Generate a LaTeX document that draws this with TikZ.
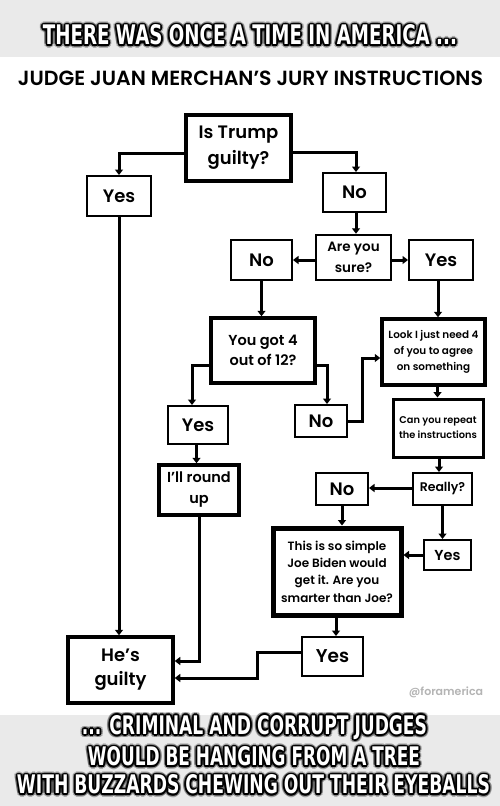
\documentclass[tikz,border=0pt]{standalone}
\usepackage{fontspec}
\usepackage{graphicx}
\usetikzlibrary{arrows.meta}
\setmainfont{Poppins SemiBold}
\newfontfamily\memefont{DejaVu Sans}[BoldFont={DejaVu Sans Bold}]
\definecolor{band}{HTML}{EAEAEA}
\definecolor{wm}{HTML}{B4B4B4}
\newcommand\fsz[2]{\fontsize{#1}{#2}\selectfont}
\newcommand\memeline[6]{%
  \foreach \a in {0,30,...,330}{%
    \node[memeblur] (#1b\a) at ([shift={(\a:3.2pt)}]#2,#3) {\resizebox{#4pt}{#5pt}{\memefont\bfseries #6}};}
  \foreach \a in {0,30,...,330}{%
    \node[memeshadow] (#1s\a) at ([shift={(\a:1.6pt)}]#2,#3) {\resizebox{#4pt}{#5pt}{\memefont\bfseries #6}};}
  \node[memewhite] (#1) at (#2,#3) {\resizebox{#4pt}{#5pt}{\memefont\bfseries #6}};}
\tikzset{
  memeblur/.style={inner sep=0pt, text=black, opacity=0.25},
  memeshadow/.style={inner sep=0pt, text=black},
  memewhite/.style={inner sep=0pt, text=white},
  box/.style={draw=black, line width=2pt, align=center, inner sep=0pt, fill=white},
  thickbox/.style={box, line width=3.5pt},
  conn/.style={line width=3pt, -{Triangle[length=5.5pt,width=8pt]}},
}
\begin{document}
\begin{tikzpicture}[x=1pt,y=-1pt]
\useasboundingbox (0,0) rectangle (500,806);
\fill[white] (0,0) rectangle (500,806);
\fill[band] (0,0) rectangle (500,57);
\fill[band] (0,715) rectangle (500,806);

\memeline{top}{250}{35}{414}{20}{THERE WAS ONCE A TIME IN AMERICA ...}
\memeline{bot1}{254.5}{727.5}{345}{19}{... CRIMINAL AND CORRUPT JUDGES}
\memeline{bot2}{254}{756.5}{332}{19}{WOULD BE HANGING FROM A TREE}
\memeline{bot3}{253.5}{784.5}{473}{19}{WITH BUZZARDS CHEWING OUT THEIR EYEBALLS}

\node[inner sep=0pt] (title) at (250.5,78) {\resizebox{465pt}{!}{\fsz{16}{18}JUDGE JUAN MERCHAN’S JURY INSTRUCTIONS}};

% boxes
\node[thickbox, minimum width=105, minimum height=66, font=\fsz{18}{26}] (trump) at (238.5,148) {Is Trump\\guilty?};
\node[box, minimum width=64, minimum height=40, font=\fsz{18}{22}] (yes1) at (119,196) {Yes};
\node[box, minimum width=63, minimum height=39, font=\fsz{18}{22}] (no1) at (354.5,192.5) {No};
\node[box, line width=2.5pt, minimum width=75, minimum height=45, font=\fsz{13.5}{21}] (sure) at (353.5,257.5) {Are you\\sure?};
\node[box, minimum width=61, minimum height=40, font=\fsz{18}{22}] (no2) at (261.5,260) {No};
\node[box, minimum width=64, minimum height=40, font=\fsz{18}{22}] (yes2) at (441,260) {Yes};
\node[thickbox, minimum width=104, minimum height=65, font=\fsz{14.5}{20}] (got4) at (263,350.5) {You got 4\\out of 12?};
\node[thickbox, minimum width=103, minimum height=66, font=\fsz{10.4}{16}] (look) at (433.5,352) {Look I just need 4\\of you to agree\\on something};
\node[box, minimum width=60, minimum height=38, font=\fsz{18}{22}] (yes3) at (198,425) {Yes};
\node[box, minimum width=52, minimum height=32, font=\fsz{18}{22}] (no3) at (321,421) {No};
\node[thickbox, line width=3pt, minimum width=90, minimum height=58, font=\fsz{9.8}{15}] (repeat) at (438,428) {Can you repeat\\the instructions};
\node[thickbox, minimum width=80, minimum height=50, font=\fsz{14.5}{21}] (round) at (199,490) {I’ll round\\up};
\node[box, minimum width=52, minimum height=32, font=\fsz{18}{22}] (no4) at (342,489) {No};
\node[box, minimum width=59, minimum height=32, font=\fsz{12.5}{16}] (really) at (442.5,489) {Really?};
\node[thickbox, line width=5pt, minimum width=128, minimum height=87, font=\fsz{12}{17.3}] (simple) at (337,571.5) {This is so simple\\Joe Biden would\\get it. Are you\\smarter than Joe?};
\node[box, minimum width=47, minimum height=30, font=\fsz{14.5}{18}] (yes4) at (447.5,555) {Yes};
\node[thickbox, minimum width=105, minimum height=66, font=\fsz{18}{24}] (guilty) at (120.5,670) {He’s\\guilty};
\node[box, minimum width=61, minimum height=39, font=\fsz{18.5}{22}] (yes5) at (332.5,656.5) {Yes};

\node[text=wm, inner sep=0pt, font=\fsz{11}{13}] (wm) at (446,692) {@foramerica};

% connectors
\draw[conn] ([yshift=-5pt]trump.west) -| (yes1.north);
\draw[conn] ([yshift=-4pt]trump.east) -| ([xshift=1.5pt]no1.north);
\draw[conn] ([xshift=1.5pt]no1.south) -- ([xshift=1.5pt]no1.south |- sure.north);
\draw[conn] (sure.west |- no2.east) -- (no2.east);
\draw[conn] (sure.east |- yes2.west) -- (yes2.west);
\draw[conn] (no2.south) -- (no2.south |- got4.north);
\draw[conn] ([xshift=-3pt]yes2.south) -- ([xshift=-3pt]yes2.south |- look.north);
\draw[conn] ([yshift=-14.5pt]got4.west) -| ([xshift=-6pt]yes3.north);
\draw[conn] ([yshift=-14.5pt]got4.east) -| ([xshift=6pt]no3.north);
\draw[conn] (no3.east) -- ++(14,0) |- ([yshift=-6pt]look.west);
\draw[conn] ([xshift=4pt]look.south) -- ([xshift=4pt]look.south |- repeat.north);
\draw[conn] ([xshift=-1.5pt]yes3.south) -- ([xshift=-1.5pt]yes3.south |- round.north);
\draw[conn] ([xshift=1pt]repeat.south) -- ([xshift=1pt]repeat.south |- really.north);
\draw[conn] ([yshift=1pt]really.west) -- ([yshift=1pt]no4.east);
\draw[conn] (no4.south) -- (no4.south |- simple.north);
\draw[conn] (really.south) -- (really.south |- yes4.north);
\draw[conn] (yes4.west) -- (yes4.west -| simple.east);
\draw[conn] (yes1.south) -- (yes1.south |- guilty.north);
\draw[conn] (round.south) |- ([yshift=9pt]guilty.east);
\draw[conn] ([xshift=-1pt]simple.south) -- ([xshift=-1pt]simple.south |- yes5.north);
\draw[conn] ([yshift=4.5pt]yes5.west) -- ++(-44,0) |- ([yshift=-8pt]guilty.east);
\end{tikzpicture}
\end{document}
